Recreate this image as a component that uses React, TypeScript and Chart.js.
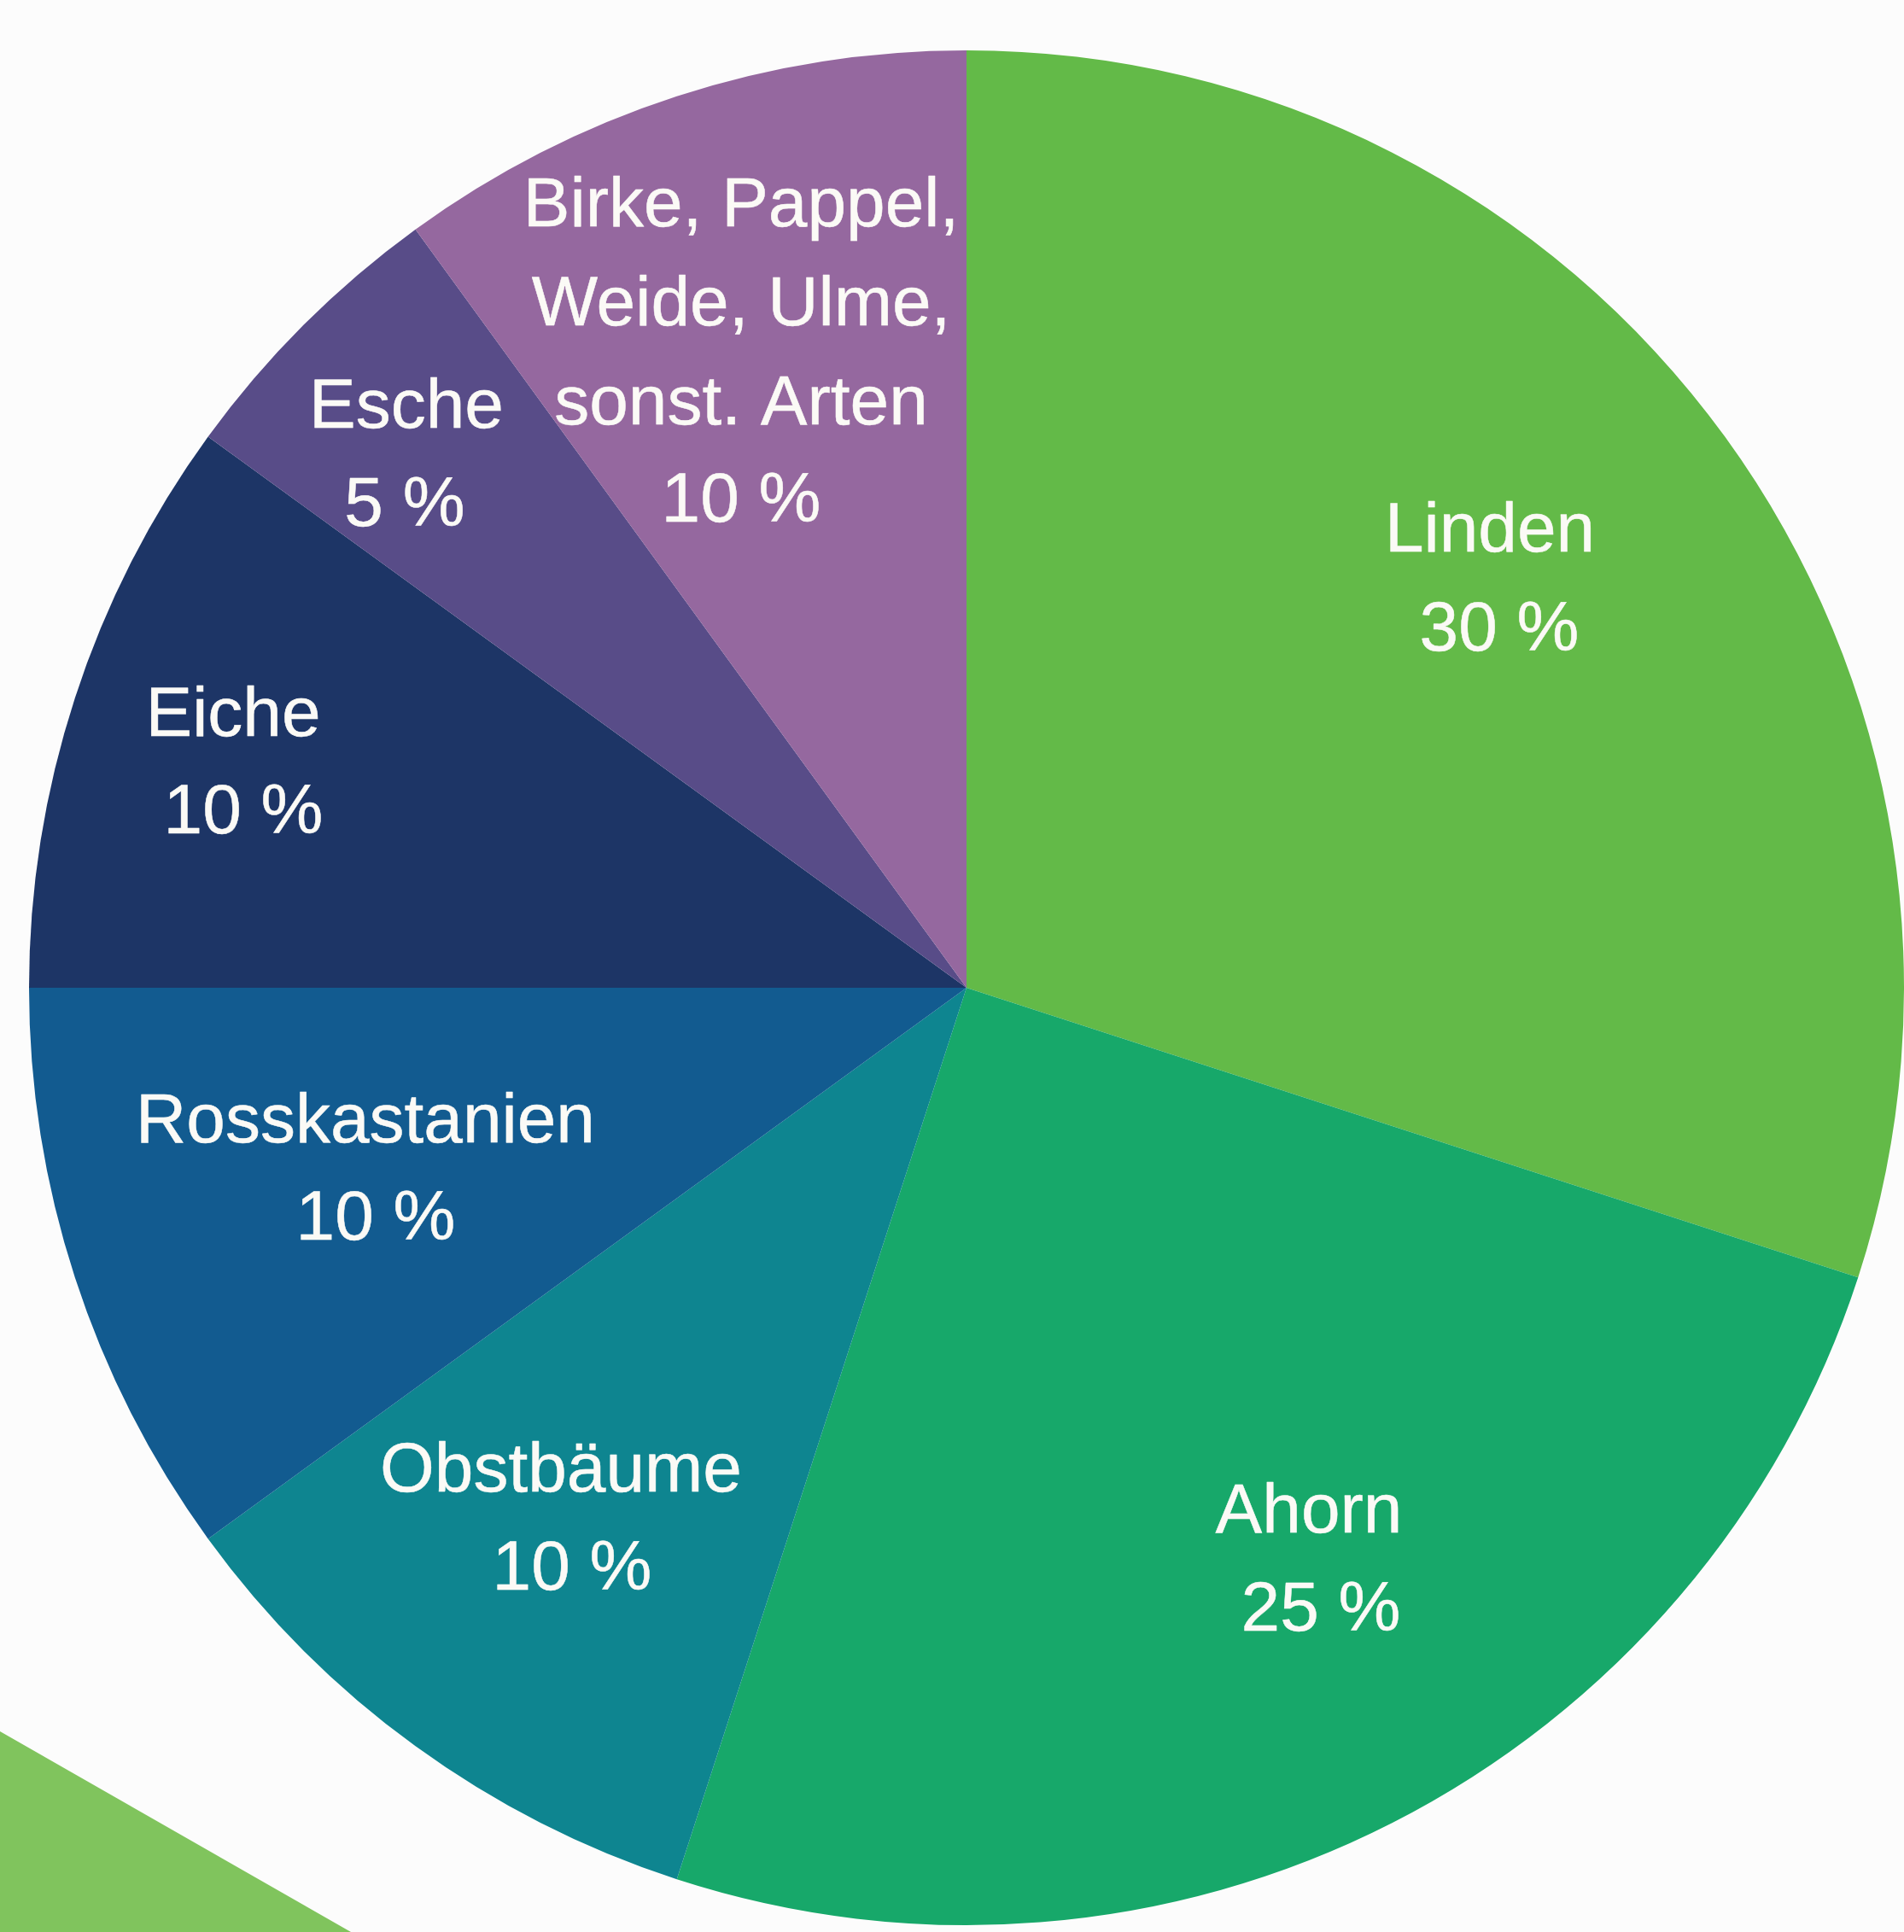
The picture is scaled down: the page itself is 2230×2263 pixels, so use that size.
import React, { useEffect, useRef } from "react";
import { Chart, registerables } from "chart.js";

Chart.register(...registerables);

const categories = ["Linden", "Ahorn", "Obstbäume", "Rosskastanien", "Eiche", "Esche", "Birke, Pappel, Weide, Ulme, sonst. Arten"];
const shares = [30, 25, 10, 10, 10, 5, 10];
const labelLines = [
  ["Linden", "30 %"],
  ["Ahorn", "25 %"],
  ["Obstbäume", "10 %"],
  ["Rosskastanien", "10 %"],
  ["Eiche", "10 %"],
  ["Esche", "5 %"],
  ["Birke, Pappel,", "Weide, Ulme,", "sonst. Arten", "10 %"],
];
const colors = ["#63BA48", "#17A86A", "#0E8590", "#125B90", "#1D3566", "#584C88", "#95689F"];

// label line anchors (centre x, baseline y) relative to pie centre, in px at reference radius
const REF_R = 1098;
const labelOffsets = [
  [[613, -511], [624, -395]],
  [[401, 638], [415, 753]],
  [[-475, 590], [-462, 705]],
  [[-704, 181], [-692, 295]],
  [[-859, -295], [-847, -181]],
  [[-656, -656], [-658, -541]],
  [[-264, -892], [-264, -776], [-264, -660], [-264, -546]],
];

const W = 2230;
const H = 2263;

const bgPlugin = {
  id: "bg",
  beforeDraw(chart: any) {
    const ctx = chart.ctx;
    ctx.save();
    ctx.fillStyle = "#FCFCFC";
    ctx.fillRect(0, 0, chart.width, chart.height);
    ctx.fillStyle = "#80C45D";
    ctx.beginPath();
    ctx.moveTo(0, 2028);
    ctx.lineTo(411, H);
    ctx.lineTo(0, H);
    ctx.closePath();
    ctx.fill();
    ctx.restore();
  },
};

const labelPlugin = {
  id: "sliceLabels",
  afterDatasetsDraw(chart: any) {
    const ctx = chart.ctx;
    const meta = chart.getDatasetMeta(0);
    ctx.save();
    ctx.fillStyle = "#FBFAF6";
    ctx.strokeStyle = "#FBFAF6";
    ctx.lineWidth = 0.5;
    ctx.lineJoin = "round";
    ctx.textAlign = "center";
    ctx.textBaseline = "alphabetic";
    meta.data.forEach((arc: any, i: number) => {
      const r = arc.outerRadius;
      const s = r / REF_R;
      ctx.font = `${Math.round(82 * s)}px "Liberation Sans", Arial, sans-serif`;
      labelLines[i].forEach((line, j) => {
        const [dx, dy] = labelOffsets[i][j];
        ctx.fillText(line, arc.x + dx * s, arc.y + dy * s);
        ctx.strokeText(line, arc.x + dx * s, arc.y + dy * s);
      });
    });
    ctx.restore();
  },
};

export default function App() {
  const ref = useRef<HTMLCanvasElement>(null);
  useEffect(() => {
    if (!ref.current) return;
    const chart = new Chart(ref.current, {
      type: "pie",
      data: {
        labels: categories,
        datasets: [
          {
            data: shares,
            backgroundColor: colors,
            borderWidth: 0,
          },
        ],
      },
      options: {
        responsive: false,
        maintainAspectRatio: false,
        devicePixelRatio: 1,
        animation: false,
        layout: { padding: { left: 34, right: 0, top: 59, bottom: 8 } },
        plugins: {
          legend: { display: false },
          tooltip: { enabled: false },
        },
      },
      plugins: [bgPlugin, labelPlugin],
    });
    return () => chart.destroy();
  }, []);
  return (
    <div style={{ position: "absolute", left: 0, top: 0, width: W, height: H, background: "#FCFCFC" }}>
      <canvas ref={ref} width={W} height={H} style={{ display: "block", width: W, height: H }} />
    </div>
  );
}
